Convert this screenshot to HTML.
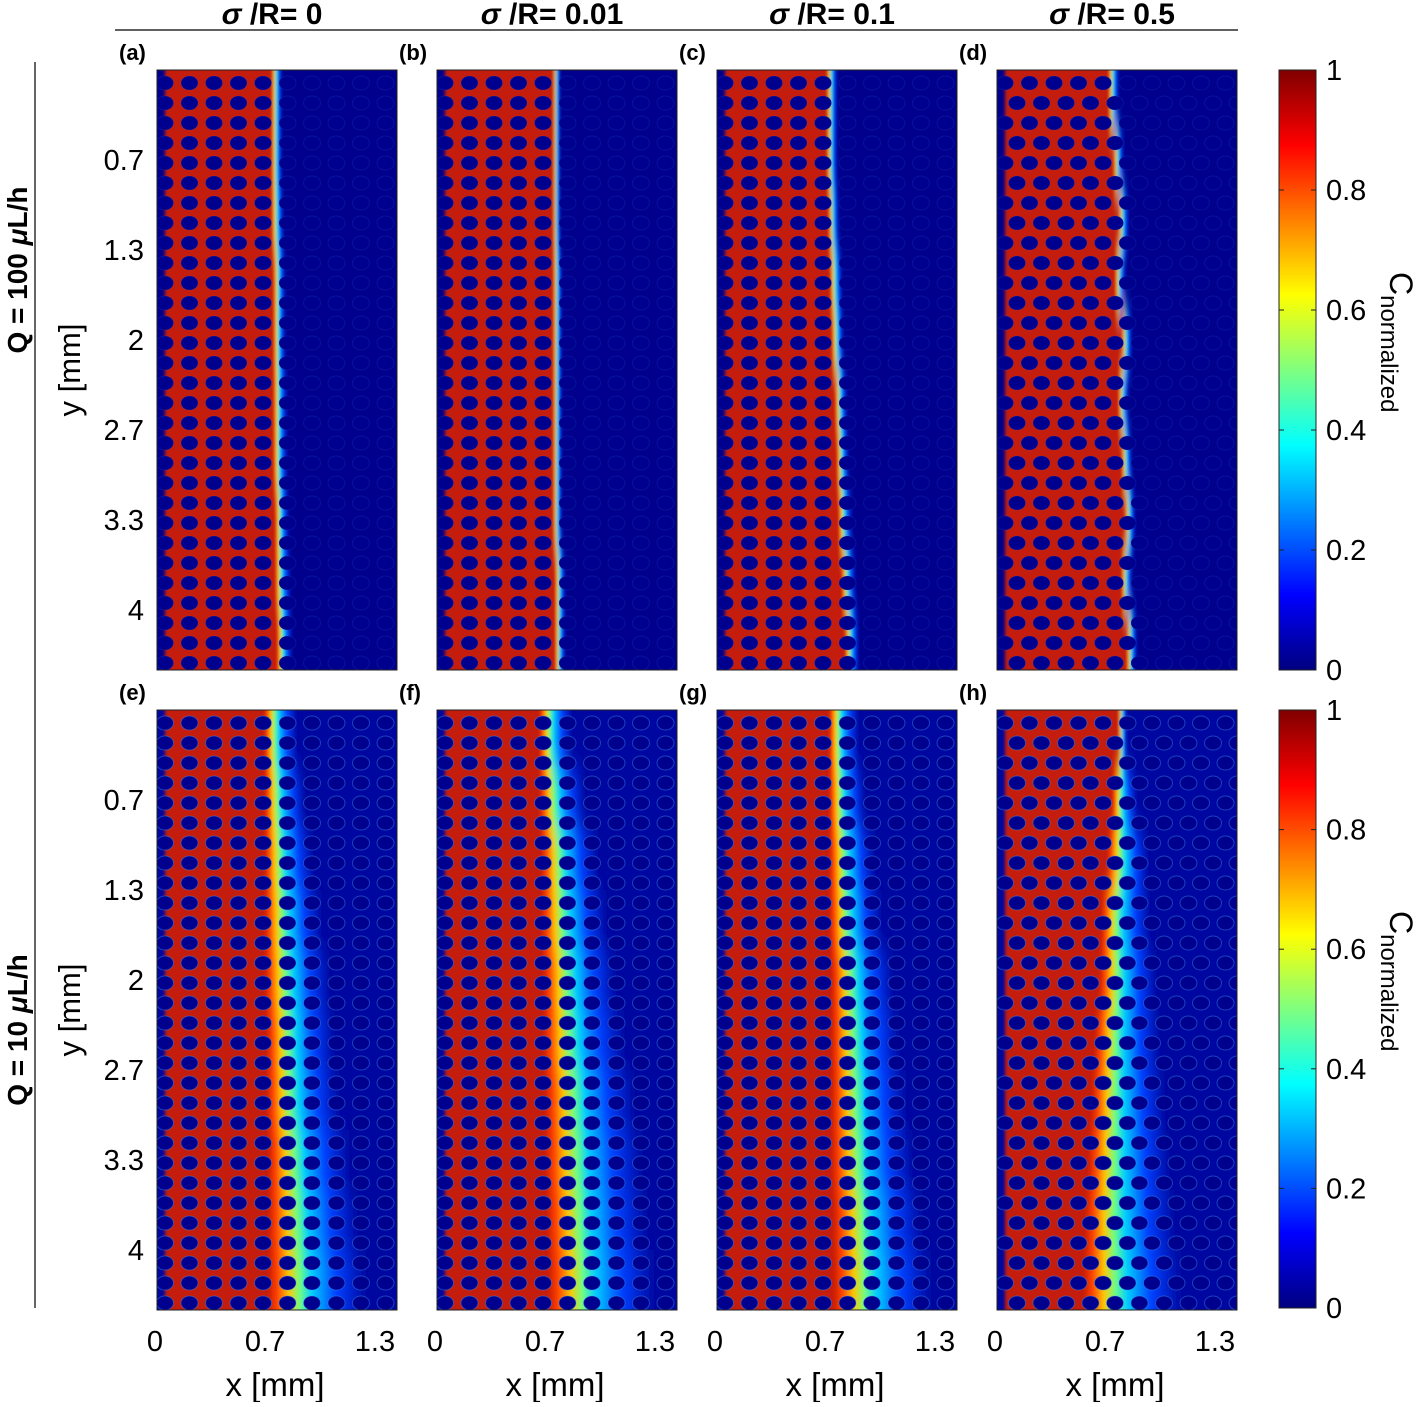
<!DOCTYPE html>
<html><head><meta charset="utf-8"><style>
body{margin:0;background:#fff}
svg text{font-family:"Liberation Sans",sans-serif}
</style></head><body>
<svg id="fig" width="1428" height="1402" viewBox="0 0 1428 1402" xmlns="http://www.w3.org/2000/svg">
<defs>
<linearGradient id="mix" x1="0" x2="1" y1="0" y2="0">
<stop offset="0" stop-color="#c01808"/><stop offset="0.1" stop-color="#ff4000"/><stop offset="0.22" stop-color="#ffc800"/><stop offset="0.33" stop-color="#70ff80"/><stop offset="0.45" stop-color="#00d0ff"/><stop offset="0.7" stop-color="#0040ff"/><stop offset="1" stop-color="#0008a0"/>
</linearGradient>
<linearGradient id="jet" x1="0" x2="0" y1="0" y2="1">
<stop offset="0" stop-color="#800000"/><stop offset="0.125" stop-color="#ff0000"/><stop offset="0.375" stop-color="#ffff00"/><stop offset="0.625" stop-color="#00ffff"/><stop offset="0.875" stop-color="#0000ff"/><stop offset="1" stop-color="#000080"/>
</linearGradient>
<filter id="soft" x="-10%" y="-10%" width="120%" height="120%"><feGaussianBlur stdDeviation="1.5 14"/></filter>
</defs>
<g id="panels"></g>
<g font-weight="bold" font-size="30" text-anchor="middle">
<text x="272" y="24"><tspan font-style="italic">σ</tspan> /R= 0</text>
<text x="552" y="24"><tspan font-style="italic">σ</tspan> /R= 0.01</text>
<text x="832" y="24"><tspan font-style="italic">σ</tspan> /R= 0.1</text>
<text x="1112" y="24"><tspan font-style="italic">σ</tspan> /R= 0.5</text>
</g>
<line x1="115" y1="30" x2="1238" y2="30" stroke="#000" stroke-width="1.2"/>
<line x1="35" y1="62" x2="35" y2="1308" stroke="#000" stroke-width="1.2"/>
<text transform="translate(27,270) rotate(-90)" text-anchor="middle" font-size="28" font-weight="bold">Q = 100 <tspan font-style="italic">μ</tspan>L/h</text>
<text transform="translate(27,1030) rotate(-90)" text-anchor="middle" font-size="28" font-weight="bold">Q = 10 <tspan font-style="italic">μ</tspan>L/h</text>
<g id="cbars"></g>
</svg>
<script>
const panelLabels=['(a)','(b)','(c)','(d)','(e)','(f)','(g)','(h)'];
const fronts=[
[0.70,0.70,0.70,0.71,0.71,0.71,0.71,0.72,0.72,0.73],
[0.71,0.71,0.71,0.71,0.71,0.71,0.71,0.71,0.72,0.72],
[0.67,0.67,0.68,0.69,0.70,0.72,0.73,0.74,0.76,0.78],
[0.68,0.71,0.74,0.72,0.76,0.74,0.76,0.78,0.76,0.79],
[0.65,0.65,0.65,0.65,0.65,0.66,0.66,0.67,0.67,0.67],
[0.62,0.62,0.63,0.63,0.64,0.64,0.65,0.65,0.66,0.67],
[0.68,0.68,0.68,0.68,0.69,0.69,0.69,0.69,0.70,0.70],
[0.74,0.70,0.67,0.63,0.62,0.59,0.57,0.55,0.53,0.52]];
const widths=[
[0.06,0.06,0.07,0.07,0.07,0.08,0.08,0.08,0.09,0.09],
[0.04,0.04,0.04,0.05,0.05,0.05,0.05,0.05,0.06,0.06],
[0.06,0.06,0.06,0.07,0.07,0.07,0.07,0.08,0.08,0.08],
[0.06,0.06,0.06,0.06,0.06,0.06,0.06,0.06,0.06,0.06],
[0.20,0.25,0.30,0.35,0.40,0.42,0.45,0.50,0.55,0.60],
[0.20,0.28,0.35,0.40,0.45,0.50,0.55,0.60,0.62,0.65],
[0.18,0.22,0.28,0.32,0.38,0.42,0.46,0.50,0.55,0.60],
[0.05,0.15,0.25,0.30,0.35,0.40,0.45,0.50,0.55,0.60]];
const yTicks=[0.667,1.333,2,2.667,3.333,4];
const yTickLabels=['0.7','1.3','2','2.7','3.3','4'];
const xTicks=[0,0.667,1.333];
const xTickLabels=['0','0.7','1.3'];
const cbTicks=[0,0.2,0.4,0.6,0.8,1];
const cbTickLabels=['0','0.2','0.4','0.6','0.8','1'];

const NS='http://www.w3.org/2000/svg';
const colX=[157,437,717,997], rowY=[70,710], PW=240, PH=600;
const PXMM=165, PYMM=135;
function mk(tag,attrs,parent){const e=document.createElementNS(NS,tag);for(const k in attrs)e.setAttribute(k,attrs[k]);parent.appendChild(e);return e;}
const root=document.getElementById('panels');
for(let p=0;p<8;p++){
  const c=p%4,r=Math.floor(p/4),x0=colX[c],y0=rowY[r];
  const xs=v=>x0+v*PXMM, ys=v=>y0+v*PYMM;
  const g=mk('g',{},root);
  
  
  const cp='clip'+p;
  const cl=mk('clipPath',{id:cp},g);mk('rect',{x:x0,y:y0,width:PW,height:PH},cl);
  const inner=mk('g',{'clip-path':'url(#'+cp+')'},g);
  mk('rect',{x:x0,y:y0,width:PW,height:PH,fill:r?'#0006a0':'#00008c'},inner);
  const soft=mk('g',{filter:'url(#soft)'},inner);
  const fr=fronts[p],wd=widths[p],n=fr.length,sh=PH/n;
  for(let i=0;i<n;i++){
    const ext0=i===0?40:0, ext1=i===n-1?40:0;
    const yy=y0+i*sh-ext0, hh=sh+0.5+ext0+ext1;
    const red=mk('rect',{x:x0+8,y:yy,width:xs(fr[i])-x0-8,height:hh,fill:'#c41a0a'},soft);
    
    
    const tr=mk('rect',{x:xs(fr[i])-0.5,y:yy,width:wd[i]*PXMM,height:hh,fill:'url(#mix)'},soft);
    
    
  }
  const stag=(c===3);
  for(let j=0;j<31;j++){
    const cy=y0+13+j*20;
    const off=stag&&(j%2)?12:0;
    for(let k=0;k<10;k++){
      const cx=x0+8+k*24.5+off;
      const e=mk('ellipse',{cx:cx,cy:cy,rx:8.5,ry:7,fill:'#00008f',stroke:'#40a0ff','stroke-width':1,'stroke-opacity':r?0.4:0.12},inner);
      
      
    }
  }
  mk('rect',{x:x0,y:y0,width:PW,height:PH,fill:'none',stroke:'#222','stroke-width':1},g);
  const lb=mk('text',{x:x0-38,y:y0-10,'font-size':22,'font-weight':'bold'},g);lb.textContent=panelLabels[p];
  
  
  if(c===0){
    yTicks.forEach((v,i)=>{
      const t=mk('text',{x:x0-13,y:ys(v)+10,'font-size':29,'text-anchor':'end'},g);t.textContent=yTickLabels[i];
      
      
    });
    const yl=mk('text',{transform:'translate('+(x0-77)+','+(y0+300)+') rotate(-90)','font-size':31,'text-anchor':'middle'},g);yl.textContent='y [mm]';
    
    
  }
  if(r===1){
    xTicks.forEach((v,i)=>{
      const t=mk('text',{x:x0-2+v*PXMM,y:1351,'font-size':29,'text-anchor':'middle'},g);t.textContent=xTickLabels[i];
      
      
    });
    const xl=mk('text',{x:x0+118,y:1396,'font-size':33,'text-anchor':'middle'},g);xl.textContent='x [mm]';
    
    
  }
}
const cb=document.getElementById('cbars');
[[70,670],[710,1308]].forEach(([t,b],ri)=>{
  const g=mk('g',{},cb);
  
  
  mk('rect',{x:1279,y:t,width:37,height:b-t,fill:'url(#jet)',stroke:'#222','stroke-width':1},g);
  cbTicks.forEach((v,i)=>{
    const y=b-v*(b-t);
    mk('line',{x1:1279,x2:1284,y1:y,y2:y,stroke:'#222'},g);
    mk('line',{x1:1311,x2:1316,y1:y,y2:y,stroke:'#222'},g);
    const tx=mk('text',{x:1326,y:y+10,'font-size':29},g);tx.textContent=cbTickLabels[i];
    
    
  });
  const mid=(t+b)/2;
  const lab=mk('text',{transform:'translate(1390,'+(mid-98)+') rotate(90)','font-size':32},g);
  lab.innerHTML='C<tspan font-size="24" dy="9">normalized</tspan>';
  
  
});
</script>
</body></html>
